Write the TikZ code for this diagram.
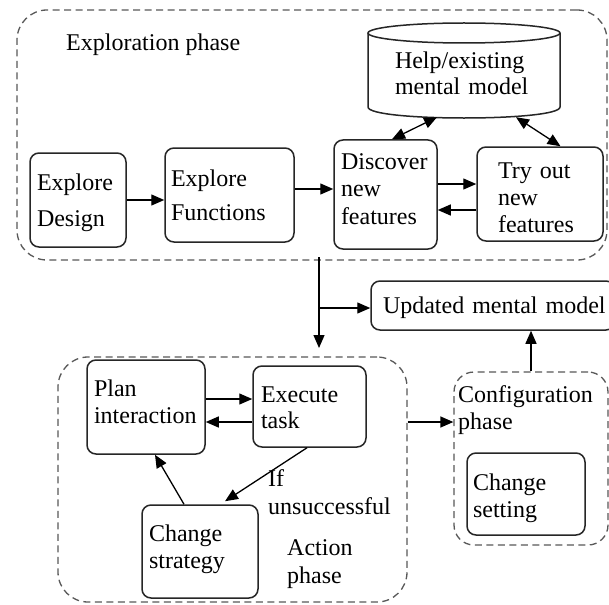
\documentclass[tikz,border=0pt]{standalone}
\usepackage{fontspec}
\setmainfont{Liberation Serif}
\usetikzlibrary{arrows.meta,calc}
\begin{document}
\begin{tikzpicture}[x=1pt,y=-1pt,
  box/.style={draw=black!85, line width=1.5pt, rounded corners=9pt, align=left, inner ysep=0pt, text height=18pt},
  phase/.style={draw=black!65, line width=1.3pt, dash pattern=on 7pt off 4.5pt, rounded corners=#1, inner sep=0pt},
  arr/.style={draw=black, line width=1.3pt, -{Triangle[length=13pt,width=11pt]}},
  darr/.style={draw=black, line width=1.3pt, {Triangle[length=13pt,width=11pt]}-{Triangle[length=13pt,width=11pt]}},
  lbl/.style={inner sep=0pt, align=left, anchor=base west},
  fs/.style={font=\fontsize{24}{#1}\selectfont}
]
\useasboundingbox (0,0) rectangle (609,604);
\fill[white] (0,0) rectangle (609,604);

% containers
\node[phase=30pt, minimum width=590pt, minimum height=250pt] (explo) at (312,135) {};
\node[phase=30pt, minimum width=349pt, minimum height=245pt] (action) at (232.5,479.5) {};
\node[phase=20pt, minimum width=154pt, minimum height=173pt] (config) at (531,458.5) {};

% labels
\node[lbl, fs=27] (explbl) at (66,51) {Exploration phase};
\node[lbl, fs=27, text width=150pt] (conflbl) at (458,402) {Configuration\\phase};
\node[lbl, fs=28, text width=130pt] (iflbl) at (268,486) {If\\unsuccessful};
\node[lbl, fs=28, text width=80pt] (actlbl) at (287,555) {Action\\phase};

% cylinder
\node[inner sep=0pt, inner xsep=27pt, minimum width=192pt, minimum height=94pt, align=left, fs=26, text width=138pt, text height=18pt, text depth=20pt] (cyl) at (464,70) {Help/existing\\mental model};
\draw[draw=black!85, line width=1.5pt] (368,33) -- (368,107) .. controls (368,121.67) and (560,121.67) .. (560,107) -- (560,33);
\draw[draw=black!85, line width=1.5pt] (464,33) ellipse [x radius=96pt, y radius=10pt];

% exploration boxes
\node[box, fs=36, text width=82pt, inner xsep=7pt, minimum width=96pt, minimum height=94pt, text depth=38pt] (ed) at (78,200) {Explore\\Design};
\node[box, fs=34, text width=117pt, inner xsep=6pt, minimum width=129pt, minimum height=94pt, text depth=36pt] (ef) at (229.5,195) {Explore\\Functions};
\node[box, fs=27.5, text width=89pt, inner xsep=7pt, minimum width=103pt, minimum height=109pt, text depth=69pt] (disc) at (385.5,194.5) {Discover\\new\\features};
\node[box, fs=27, text width=84pt, inner xsep=21pt, minimum width=126pt, minimum height=94pt, text depth=50pt] (try) at (540,194) {Try out\\new\\features};

% updated model
\node[box, fs=27, text width=220pt, inner xsep=12pt, minimum width=244pt, minimum height=49pt, text depth=3pt] (upd) at (493,305.5) {\makebox[0pt][l]{Updated mental model}};

% action boxes
\node[box, fs=27, text width=104pt, inner xsep=7pt, minimum width=118pt, minimum height=94pt, text depth=40pt] (plan) at (146,407) {Plan\\interaction};
\node[box, fs=26, text width=97pt, inner xsep=8pt, minimum width=113pt, minimum height=81pt, text depth=27pt] (exec) at (309.5,406.5) {Execute\\task};
\node[box, fs=27, text width=102pt, inner xsep=7pt, minimum width=116pt, minimum height=93pt, text depth=39pt] (cs) at (200,551.5) {Change\\strategy};

% configuration box
\node[box, fs=27, text width=106pt, inner xsep=6pt, minimum width=118pt, minimum height=82pt, text depth=26pt] (cset) at (526,494) {Change\\setting};

% connectors in exploration phase
\draw[arr] (ed.east) -- ($(ef.west)+(0,5)$);
\draw[arr] ($(ef.east)+(0,-6)$) -- ($(disc.west)+(0,-5.5)$);
\draw[arr] ($(disc.east)+(0,-10.5)$) -- ($(try.west)+(0,-10)$);
\draw[arr] ($(try.west)+(0,16)$) -- ($(disc.east)+(0,15.5)$);
\draw[darr] ($(cyl.south)+(-27,0)$) -- ($(disc.north)+(6.5,0)$);
\draw[darr] ($(cyl.south)+(52,0)$) -- ($(try.north)+(20.5,0)$);

% between phases
\coordinate (vtop) at (319,257);
\coordinate (vmid) at (319,308);
\coordinate (vbot) at (319,348);
\draw[arr] (vtop) -- (vbot);
\draw[arr] (vmid) -- (upd.west |- vmid);
\draw[arr] ($(action.east)+(0,-57.5)$) -- ($(config.west)+(0,-36.5)$);
\draw[arr] (config.north) -- (config.north |- upd.south);

% action phase
\draw[arr] ($(plan.east)+(0,-8)$) -- ($(exec.west)+(0,-7.5)$);
\draw[arr] ($(exec.west)+(0,15.5)$) -- ($(plan.east)+(0,15)$);
\draw[arr] ($(exec.south)+(-2.5,0)$) -- ($(cs.north)+(25,-3)$);
\draw[arr] ($(cs.north)+(-16,0)$) -- ($(plan.south)+(9,0)$);
\end{tikzpicture}
\end{document}
